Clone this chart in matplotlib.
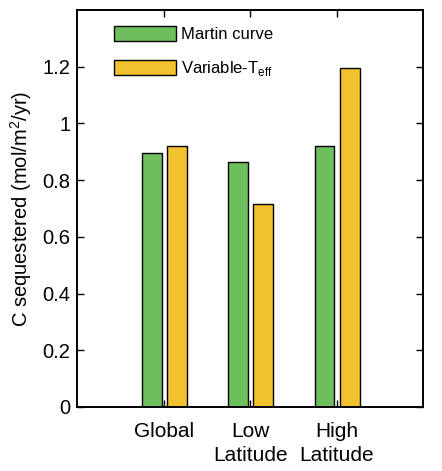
import matplotlib
matplotlib.use("Agg")
import matplotlib.pyplot as plt
import numpy as np

categories = ["Global", "Low\nLatitude", "High\nLatitude"]
martin = [0.895, 0.863, 0.919]
variable = [0.919, 0.715, 1.195]
series_labels = ["Martin curve", "Variable-T$_{\\mathregular{eff}}$"]
yticks = [0, 0.2, 0.4, 0.6, 0.8, 1.0, 1.2]
ytick_labels = ["0", "0.2", "0.4", "0.6", "0.8", "1", "1.2"]

plt.rcParams['font.family'] = ['Liberation Sans', 'DejaVu Sans']

fig = plt.figure(figsize=(4.42, 4.71), dpi=100)
ax = fig.add_axes([0.1753, 0.1359, 0.957 - 0.1753, 0.9788 - 0.1359])

x = np.arange(1, len(categories) + 1)
w = 0.23
green = "#6cbf5c"
yellow = "#f2c12e"
ax.bar(x - 0.14, martin, w, color=green, edgecolor="black", linewidth=1.0, label=series_labels[0])
ax.bar(x + 0.15, variable, w, color=yellow, edgecolor="black", linewidth=1.0, label=series_labels[1])

ax.set_xlim(0, 4)
ax.set_ylim(0, 1.4)
ax.set_xticks(x)
ax.set_xticklabels(categories, fontsize=15, linespacing=1.3)
ax.set_yticks(yticks)
ax.set_yticklabels(ytick_labels, fontsize=14.5)
ax.tick_params(direction="in", top=True, right=True, length=5, width=1.0, pad=5)
ax.tick_params(axis="x", pad=11)
for s in ax.spines.values():
    s.set_linewidth(1.4)

ax.set_ylabel("C sequestered (mol/m$^{\\mathregular{2}}$/yr)", fontsize=14.5, labelpad=6)

fs = 12
ax.legend(loc="upper left", bbox_to_anchor=(0.105, 0.96), frameon=False, fontsize=fs,
          handlelength=62 / 16.7, handleheight=16.5 / 16.7, labelspacing=17 / 16.7,
          handletextpad=0.35, borderpad=0, borderaxespad=0)

fig.savefig("out.png", dpi=100)
